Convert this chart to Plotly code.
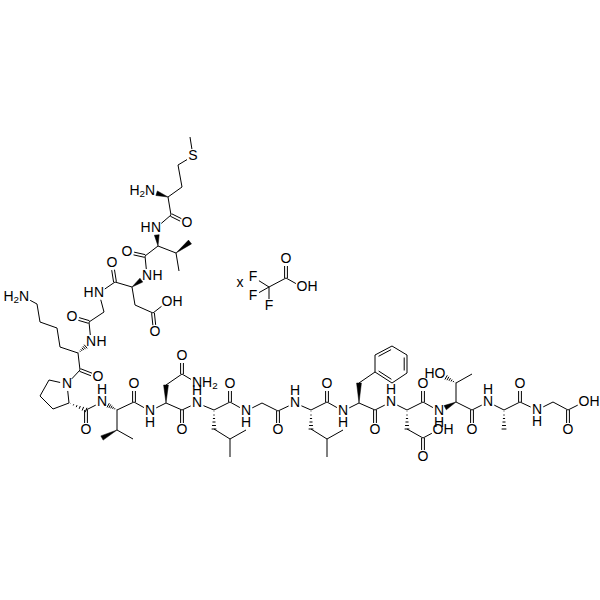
import numpy as np
import plotly.graph_objects as go

# atom positions, grouped by element
carbons = {
    "m_me": (190, 137), "m_g": (178, 165), "m_b": (182, 187), "m_a": (168, 197), "m_c": (171, 215),
    "v1_a": (158, 246), "v1_b": (176, 253), "v1_g1": (190, 242), "v1_g2": (179, 271), "v1_c": (145, 256),
    "d1_a": (132, 287), "d1_b": (135, 305), "d1_g": (153, 313), "d1_c": (115, 282),
    "g1_a": (104, 312), "g1_c": (89, 322),
    "k_a": (78, 353), "k_b": (60, 347), "k_g": (57, 328), "k_d": (40, 322), "k_e": (37, 304), "k_c": (80, 370),
    "p_d": (49, 380), "p_g": (40, 396), "p_b": (53, 409), "p_a": (69, 403), "p_c": (86, 410),
    "v2_a": (117, 410), "v2_b": (117, 430), "v2_g1": (102, 438), "v2_g2": (133, 439), "v2_c": (134, 402),
    "n_a": (166, 403), "n_b": (166, 385), "n_g": (182, 374), "n_c": (182, 410),
    "l1_a": (214, 410), "l1_b": (214, 429), "l1_g": (230, 439), "l1_d1": (246, 430), "l1_d2": (230, 457), "l1_c": (230, 402),
    "g2_a": (262, 403), "g2_c": (278, 411),
    "l2_a": (311, 410), "l2_b": (311, 429), "l2_g": (327, 439), "l2_d1": (343, 430), "l2_d2": (327, 457), "l2_c": (327, 402),
    "f_a": (359, 403), "f_b": (359, 383), "f_c": (375, 410),
    "r1": (375, 372), "r2": (375, 355), "r3": (392, 346), "r4": (407, 355), "r5": (407, 373), "r6": (392, 383),
    "d2_a": (407, 410), "d2_b": (407, 429), "d2_g": (423, 438), "d2_c": (423, 402),
    "t_a": (456, 402), "t_b": (456, 383), "t_me": (472, 374), "t_c": (472, 410),
    "a_a": (504, 410), "a_b": (504, 429), "a_c": (520, 402),
    "g3_a": (553, 402), "g3_c": (568, 410),
    "tfa_c1": (269, 287), "tfa_c2": (286, 278),
}
nitrogens = {
    "m_n": (150, 191), "v1_n": (156, 228), "d1_n": (147, 276), "g1_n": (99, 293), "k_n": (91, 342),
    "k_nz": (24, 297), "p_n": (67, 384), "v2_n": (102, 402), "n_n": (150, 411), "n_nd": (197, 383),
    "l1_n": (197, 403), "g2_n": (246, 411), "l2_n": (295, 403), "f_n": (343, 411), "d2_n": (391, 402),
    "t_n": (439, 411), "a_n": (488, 402), "g3_n": (537, 410),
}
oxygens = {
    "m_o": (187, 223), "v1_o": (127, 252), "d1_o": (112, 263), "d1_oh": (167, 302), "d1_od": (155, 332),
    "g1_o": (72, 317), "k_o": (98, 377), "p_o": (86, 430), "v2_o": (134, 384), "n_o": (182, 430),
    "n_od": (182, 356), "l1_o": (230, 384), "g2_o": (278, 430), "l2_o": (327, 384), "f_o": (375, 430),
    "d2_o": (423, 384), "d2_oh": (438, 430), "d2_od": (423, 457), "t_o": (472, 430), "t_oh": (440, 374),
    "a_o": (520, 384), "g3_o": (568, 430), "g3_oh": (584, 402), "tfa_o": (286, 259), "tfa_oh": (302, 287),
}
sulfurs = {"m_s": (193, 156)}
fluorines = {"f1": (253, 277), "f2": (253, 296), "f3": (269, 306)}

# which side the hydrogen of a label sits on
h_right = ["d1_n", "k_n", "d1_oh", "d2_oh", "g3_oh", "tfa_oh"]
h_left = ["g1_n", "v1_n", "t_oh"]
h_above = ["v2_n", "l1_n", "l2_n", "d2_n", "a_n"]
h_below = ["n_n", "g2_n", "f_n", "t_n", "g3_n"]
h2_left = ["m_n", "k_nz"]
h2_right = ["n_nd"]
salt_mark = ["x"]
salt_mark_x = [240]
salt_mark_y = [283]

single_bonds = [
    ("m_me", "m_s"), ("m_s", "m_g"), ("m_g", "m_b"), ("m_b", "m_a"), ("m_a", "m_c"), ("m_c", "v1_n"),
    ("v1_a", "v1_b"), ("v1_b", "v1_g2"), ("v1_a", "v1_c"), ("v1_c", "d1_n"),
    ("d1_a", "d1_b"), ("d1_b", "d1_g"), ("d1_g", "d1_oh"), ("d1_a", "d1_c"), ("d1_c", "g1_n"),
    ("g1_n", "g1_a"), ("g1_a", "g1_c"), ("g1_c", "k_n"),
    ("k_a", "k_b"), ("k_b", "k_g"), ("k_g", "k_d"), ("k_d", "k_e"), ("k_e", "k_nz"), ("k_a", "k_c"), ("k_c", "p_n"),
    ("p_n", "p_d"), ("p_d", "p_g"), ("p_g", "p_b"), ("p_b", "p_a"), ("p_a", "p_n"), ("p_c", "v2_n"),
    ("v2_a", "v2_b"), ("v2_b", "v2_g2"), ("v2_a", "v2_c"), ("v2_c", "n_n"), ("n_n", "n_a"),
    ("n_b", "n_g"), ("n_g", "n_nd"), ("n_a", "n_c"), ("n_c", "l1_n"), ("l1_n", "l1_a"),
    ("l1_b", "l1_g"), ("l1_g", "l1_d1"), ("l1_g", "l1_d2"), ("l1_a", "l1_c"), ("l1_c", "g2_n"),
    ("g2_n", "g2_a"), ("g2_a", "g2_c"), ("g2_c", "l2_n"), ("l2_n", "l2_a"),
    ("l2_b", "l2_g"), ("l2_g", "l2_d1"), ("l2_g", "l2_d2"), ("l2_a", "l2_c"), ("l2_c", "f_n"), ("f_n", "f_a"),
    ("f_b", "r1"), ("f_a", "f_c"), ("f_c", "d2_n"), ("d2_n", "d2_a"),
    ("r1", "r2"), ("r3", "r4"), ("r5", "r6"),
    ("d2_b", "d2_g"), ("d2_g", "d2_oh"), ("d2_a", "d2_c"), ("d2_c", "t_n"),
    ("t_a", "t_b"), ("t_b", "t_me"), ("t_a", "t_c"), ("t_c", "a_n"), ("a_n", "a_a"),
    ("a_a", "a_c"), ("a_c", "g3_n"), ("g3_n", "g3_a"), ("g3_a", "g3_c"), ("g3_c", "g3_oh"),
    ("tfa_c1", "f1"), ("tfa_c1", "f2"), ("tfa_c1", "f3"), ("tfa_c1", "tfa_c2"), ("tfa_c2", "tfa_oh"),
]
double_bonds = [
    ("m_c", "m_o"), ("v1_c", "v1_o"), ("d1_c", "d1_o"), ("d1_g", "d1_od"), ("g1_c", "g1_o"), ("k_c", "k_o"),
    ("p_c", "p_o"), ("v2_c", "v2_o"), ("n_g", "n_od"), ("n_c", "n_o"), ("l1_c", "l1_o"), ("g2_c", "g2_o"),
    ("l2_c", "l2_o"), ("f_c", "f_o"), ("d2_g", "d2_od"), ("d2_c", "d2_o"), ("t_c", "t_o"), ("a_c", "a_o"),
    ("g3_c", "g3_o"), ("tfa_c2", "tfa_o"),
]
ring_doubles = [("r2", "r3"), ("r4", "r5"), ("r6", "r1")]
ring_centre = ["r1", "r2", "r3", "r4", "r5", "r6"]

# narrow end first
wedges = [
    ("m_a", "m_n"), ("v1_a", "v1_n"), ("v1_b", "v1_g1"), ("d1_a", "d1_n"), ("v2_b", "v2_g1"),
    ("n_a", "n_b"), ("f_a", "f_b"), ("t_a", "t_n"),
]
hashes = [
    ("k_a", "k_n"), ("p_a", "p_c"), ("v2_a", "v2_n"), ("l1_a", "l1_b"), ("l2_a", "l2_b"),
    ("d2_a", "d2_b"), ("t_b", "t_oh"), ("a_a", "a_b"),
]

pos = {**carbons, **nitrogens, **oxygens, **sulfurs, **fluorines}
hetero = set(nitrogens) | set(oxygens) | set(sulfurs) | set(fluorines)
TRIM = 7.0
DOUBLE_GAP = 1.4
FONT = dict(family="Liberation Sans, Arial, sans-serif", size=14, color="#000000")


def ends(a, b):
    # bond end points, pulled back from any atom that carries a label
    p, q = np.array(pos[a], float), np.array(pos[b], float)
    u = (q - p) / np.linalg.norm(q - p)
    p2 = p + u * TRIM if a in hetero else p
    q2 = q - u * TRIM if b in hetero else q
    return p2, q2, np.array([-u[1], u[0]])


line_x, line_y = [], []


def add_seg(p, q):
    line_x.extend([p[0], q[0], None])
    line_y.extend([p[1], q[1], None])


for a, b in single_bonds:
    p, q, n = ends(a, b)
    add_seg(p, q)

for a, b in double_bonds:
    p, q, n = ends(a, b)
    add_seg(p + n * DOUBLE_GAP, q + n * DOUBLE_GAP)
    add_seg(p - n * DOUBLE_GAP, q - n * DOUBLE_GAP)

centre = np.mean([pos[r] for r in ring_centre], axis=0)
for a, b in ring_doubles:
    p, q, n = ends(a, b)
    add_seg(p, q)
    if np.dot(centre - p, n) < 0:
        n = -n
    u = (q - p) / np.linalg.norm(q - p)
    add_seg(p + n * 2.8 + u * 2.5, q + n * 2.8 - u * 2.5)

for a, b in hashes:
    p, q, n = ends(a, b)
    for f in np.linspace(0.08, 1.0, 6):
        c = p + (q - p) * f
        add_seg(c - n * 2.4 * f, c + n * 2.4 * f)

fig = go.Figure()
fig.add_trace(go.Scatter(x=line_x, y=line_y, mode="lines", line=dict(color="#000000", width=1), hoverinfo="skip"))

for a, b in wedges:
    p, q, n = ends(a, b)
    tri = [p, q + n * 2.4, q - n * 2.4, p]
    fig.add_trace(go.Scatter(x=[t[0] for t in tri], y=[t[1] for t in tri], mode="lines", fill="toself",
                             fillcolor="#000000", line=dict(color="#000000", width=0.5), hoverinfo="skip"))


def add_text(xs, ys, texts, where="middle center"):
    fig.add_trace(go.Scatter(x=xs, y=ys, text=texts, mode="text", textposition=where,
                             textfont=FONT, hoverinfo="skip"))


for group, letter in ((nitrogens, "N"), (oxygens, "O"), (sulfurs, "S"), (fluorines, "F")):
    add_text([v[0] for v in group.values()], [v[1] for v in group.values()], [letter] * len(group))

add_text([pos[k][0] + 10.5 for k in h_right], [pos[k][1] for k in h_right], ["H"] * len(h_right))
add_text([pos[k][0] - 10.5 for k in h_left], [pos[k][1] for k in h_left], ["H"] * len(h_left))
add_text([pos[k][0] for k in h_above], [pos[k][1] - 12 for k in h_above], ["H"] * len(h_above))
add_text([pos[k][0] for k in h_below], [pos[k][1] + 12 for k in h_below], ["H"] * len(h_below))
add_text([pos[k][0] - 5 for k in h2_left], [pos[k][1] for k in h2_left], ["H<sub>2</sub>"] * len(h2_left), "middle left")
add_text([pos[k][0] + 5 for k in h2_right], [pos[k][1] for k in h2_right], ["H<sub>2</sub>"] * len(h2_right), "middle right")
add_text(salt_mark_x, salt_mark_y, salt_mark)

fig.update_layout(
    width=600, height=600, margin=dict(l=0, r=0, t=0, b=0),
    paper_bgcolor="white", plot_bgcolor="white", showlegend=False,
    xaxis=dict(range=[0, 600], visible=False),
    yaxis=dict(range=[600, 0], visible=False),
)
fig.write_html("out.html", config={"displayModeBar": False}, post_script="document.body.style.margin='0';")
